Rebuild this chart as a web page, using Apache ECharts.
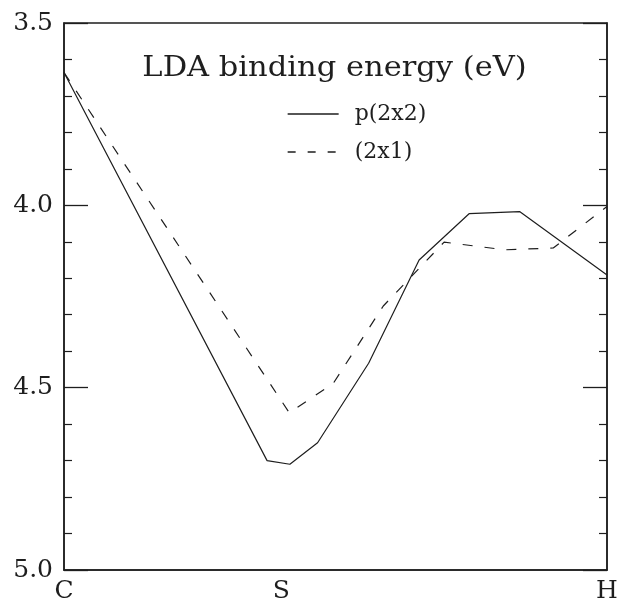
<!DOCTYPE html>
<html>
<head>
<meta charset="utf-8">
<script src="https://cdn.jsdelivr.net/npm/echarts@6/dist/echarts.min.js"></script>
<style>
html,body{margin:0;padding:0;background:#fff;}
#chart{width:618px;height:599px;}
</style>
</head>
<body>
<div id="chart"></div>
<script>
// ---- data ----
var xTickValues = [0, 0.4, 1];
var xTickLabels = ['C', 'S', 'H'];
var seriesNames = ['p(2x2)', '(2x1)'];
var p2x2X = [0, 0.374, 0.416, 0.467, 0.561, 0.654, 0.746, 0.839, 1];
var p2x2Y = [3.636, 4.700, 4.710, 4.651, 4.433, 4.150, 4.023, 4.017, 4.191];
var s2x1X = [0, 0.415, 0.496, 0.588, 0.700, 0.812, 0.901, 1];
var s2x1Y = [3.636, 4.569, 4.488, 4.276, 4.101, 4.122, 4.117, 4.003];
var titleText = 'LDA binding energy (eV)';

function pairs(xs, ys) { return xs.map(function (x, i) { return [x, ys[i]]; }); }

var ink = '#1e1e1e';
var serif = '"DejaVu Serif", "Liberation Serif", serif';
var chart = echarts.init(document.getElementById('chart'), null, {renderer: 'canvas'});

function yAxisDef(pos, showLabel) {
  return {
    type: 'value', position: pos, inverse: true,
    min: 3.5, max: 5.0, interval: 0.5,
    axisLine: {show: true, lineStyle: {color: ink, width: 1.5}},
    axisTick: {show: true, inside: true, length: 24, lineStyle: {color: ink, width: 1.3}},
    minorTick: {show: true, splitNumber: 5, length: 8, lineStyle: {color: ink, width: 1.2}},
    splitLine: {show: false},
    axisLabel: {
      show: showLabel, margin: 11, color: ink, fontFamily: serif, fontSize: 25,
      formatter: function (v) { return v.toFixed(1); }
    }
  };
}

chart.setOption({
  animation: false,
  backgroundColor: '#fff',
  grid: {left: 64, right: 11, top: 23, bottom: 29, show: true, borderColor: ink, borderWidth: 1.5,
         containLabel: false, outerBoundsMode: 'none'},
  xAxis: [{
    type: 'value', min: 0, max: 1,
    axisLine: {show: true, lineStyle: {color: ink, width: 1.5}},
    axisTick: {show: false},
    splitLine: {show: false},
    axisLabel: {
      show: true, margin: 9, color: ink, fontFamily: serif, fontSize: 25,
      customValues: xTickValues,
      formatter: function (v) {
        for (var i = 0; i < xTickValues.length; i++) {
          if (Math.abs(xTickValues[i] - v) < 1e-6) return xTickLabels[i];
        }
        return '';
      }
    }
  }],
  yAxis: [yAxisDef('left', true), yAxisDef('right', false)],
  legend: {
    orient: 'vertical', left: 282, top: 97,
    itemWidth: 51, itemHeight: 14, itemGap: 14,
    itemStyle: {opacity: 0},
    textStyle: {fontFamily: serif, fontSize: 22, color: ink, lineHeight: 24, padding: [0, 0, 0, 11]},
    data: [
      {name: seriesNames[0], lineStyle: {type: 'solid', width: 1.3, color: ink}},
      {name: seriesNames[1], lineStyle: {type: [8, 12], width: 1.3, color: ink}}
    ]
  },
  graphic: [{
    type: 'text', x: 334.5, y: 69, scaleX: 1.13,
    style: {text: titleText, font: '27px ' + serif, fill: ink, align: 'center', verticalAlign: 'middle'}
  }],
  series: [{
    name: seriesNames[0], type: 'line', symbol: 'none',
    data: pairs(p2x2X, p2x2Y),
    lineStyle: {color: ink, width: 1.2, type: 'solid'},
    itemStyle: {color: ink}
  }, {
    name: seriesNames[1], type: 'line', symbol: 'none',
    data: pairs(s2x1X, s2x1Y),
    lineStyle: {color: ink, width: 1.2, type: [10, 12]},
    itemStyle: {color: ink}
  }]
});
</script>
</body>
</html>
